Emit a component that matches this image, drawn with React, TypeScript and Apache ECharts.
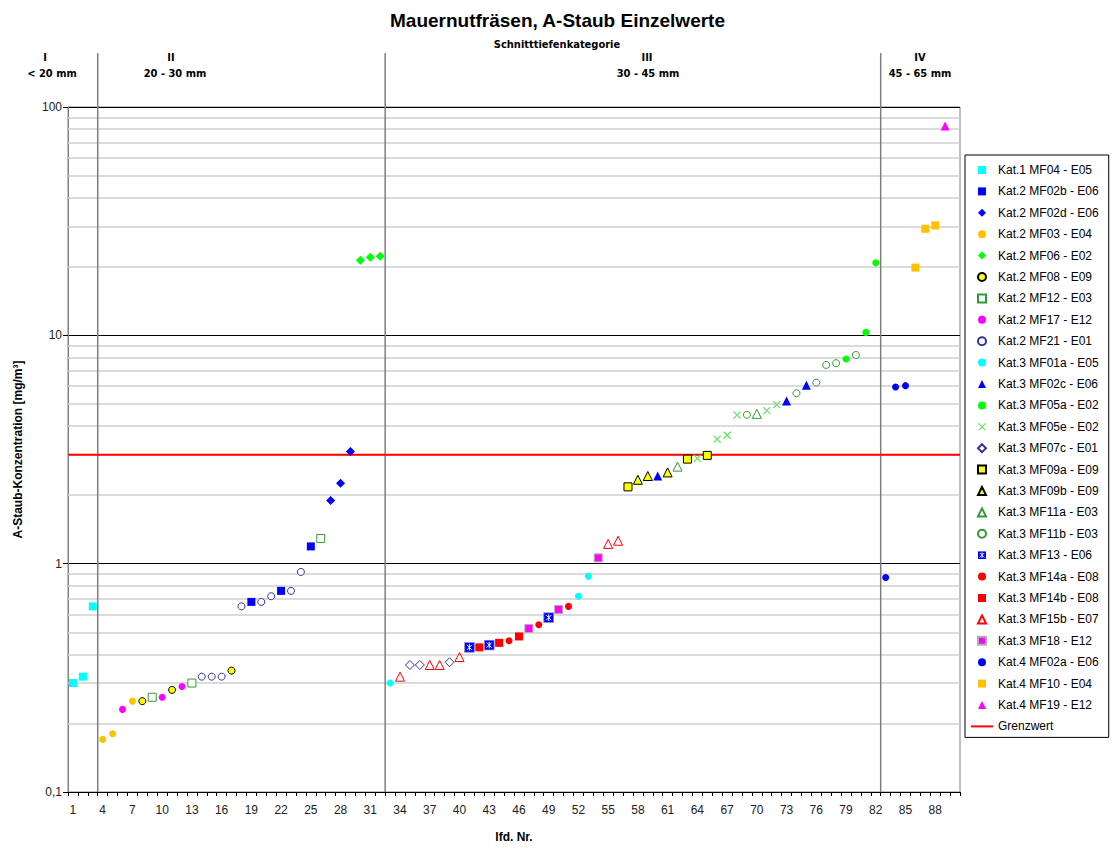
import React, { useEffect, useRef } from "react";
import * as echarts from "echarts";

// ---------- data ----------
const categories = Array.from({ length: 90 }, (_, i) => String(i + 1));

const kat1MF04 = [[1, 0.3], [2, 0.32], [3, 0.65]];
const kat2MF02b = [[19, 0.68], [22, 0.76], [25, 1.19]];
const kat2MF02d = [[27, 1.89], [28, 2.25], [29, 3.1]];
const kat2MF03 = [[4, 0.17], [5, 0.18], [7, 0.25]];
const kat2MF06 = [[30, 21.3], [31, 22.0], [32, 22.2]];
const kat2MF08 = [[8, 0.25], [11, 0.28], [17, 0.34]];
const kat2MF12 = [[9, 0.26], [13, 0.3], [26, 1.29]];
const kat2MF17 = [[6, 0.23], [10, 0.26], [12, 0.29]];
const kat2MF21 = [[14, 0.32], [15, 0.32], [16, 0.32], [18, 0.65], [20, 0.68], [21, 0.72], [23, 0.76], [24, 0.92]];
const kat3MF01a = [[33, 0.3], [52, 0.72], [53, 0.88]];
const kat3MF02c = [[60, 2.42], [73, 5.16], [75, 6.04]];
const kat3MF05a = [[79, 7.88], [81, 10.3], [82, 20.8]];
const kat3MF05e = [[64, 2.89], [66, 3.51], [67, 3.65], [68, 4.47], [71, 4.68], [72, 4.97]];
const kat3MF07c = [[35, 0.36], [36, 0.36], [39, 0.37]];
const kat3MF09a = [[57, 2.17], [63, 2.87], [65, 2.98]];
const kat3MF09b = [[58, 2.33], [59, 2.42], [61, 2.51]];
const kat3MF11a = [[62, 2.66], [70, 4.53]];
const kat3MF11b = [[69, 4.49], [74, 5.58], [76, 6.21], [77, 7.42], [78, 7.55], [80, 8.2]];
const kat3MF13 = [[41, 0.43], [43, 0.44], [49, 0.58]];
const kat3MF14a = [[45, 0.46], [48, 0.54], [51, 0.65]];
const kat3MF14b = [[42, 0.43], [44, 0.45], [46, 0.48]];
const kat3MF15b = [[34, 0.32], [37, 0.36], [38, 0.36], [40, 0.39], [55, 1.22], [56, 1.26]];
const kat3MF18 = [[47, 0.52], [50, 0.63], [54, 1.06]];
const kat4MF02a = [[83, 0.87], [84, 5.94], [85, 6.02]];
const kat4MF10 = [[86, 19.8], [87, 29.3], [88, 30.3]];
const kat4MF19 = [[89, 82.6]];

const grenzwert = 3;
const minorGridValues = [0.2, 0.3, 0.4, 0.5, 0.6, 0.7, 0.8, 0.9, 2, 3, 4, 5, 6, 7, 8, 9, 20, 30, 40, 50, 60, 70, 80, 90];
const dividers = [3.5, 32.5, 82.5];
const sectionRoman = ["I", "II", "III", "IV"];
const sectionRange = ["< 20 mm", "20 - 30 mm", "30 - 45 mm", "45 - 65 mm"];

// ---------- styles ----------
const FONT = "'Liberation Sans', Arial, sans-serif";
const NARROW = "'Liberation Sans Narrow', 'DejaVu Sans Condensed', 'Liberation Sans', sans-serif";

const svgUrl = (s: string) => "image://data:image/svg+xml;utf8," + encodeURIComponent(s);
const crossSymbol = svgUrl(
  "<svg xmlns='http://www.w3.org/2000/svg' width='9' height='9'><path d='M1 1L8 8M8 1L1 8' stroke='#5CE65C' stroke-width='1.2' fill='none'/></svg>"
);
const starBoxSymbol = svgUrl(
  "<svg xmlns='http://www.w3.org/2000/svg' width='11' height='11'><rect x='0.5' y='0.5' width='10' height='10' fill='#0000FF' stroke='#9999DD'/><path d='M3 3L8 8M8 3L3 8M5.5 2.2V8.8' stroke='#FFFFFF' stroke-width='1' fill='none'/></svg>"
);
// legend versions drawn into the full 22x8 legend icon box
const crossLegend = svgUrl(
  "<svg xmlns='http://www.w3.org/2000/svg' width='22' height='8' viewBox='0 0 22 8' preserveAspectRatio='none'><path d='M7.5 0.5L14.5 7.5M14.5 0.5L7.5 7.5' stroke='#5CE65C' stroke-width='1.1' fill='none'/></svg>"
);
const starBoxLegend = svgUrl(
  "<svg xmlns='http://www.w3.org/2000/svg' width='22' height='8' viewBox='0 0 22 8' preserveAspectRatio='none'><rect x='7' y='0' width='8' height='8' fill='#0000FF'/><path d='M8.8 1.8L13.2 6.2M13.2 1.8L8.8 6.2M11 1.2V6.8' stroke='#FFFFFF' stroke-width='0.9' fill='none'/></svg>"
);

const legendPaths: Record<string, string> = {
  rect: "path://M0,0H10V10H0Z",
  circle: "path://M0,5A5,5,0,1,0,10,5A5,5,0,1,0,0,5Z",
  diamond: "path://M5,0L10,5L5,10L0,5Z",
  triangle: "path://M5,0L10,10L0,10Z",
};

type SDef = { name: string; data: number[][]; symbol: string; size: number; color: string; border?: string; bw?: number; legendIcon?: string };

const defs: SDef[] = [
  { name: "Kat.1 MF04 - E05", data: kat1MF04, symbol: "rect", size: 8, color: "#00FFFF" },
  { name: "Kat.2 MF02b - E06", data: kat2MF02b, symbol: "rect", size: 8, color: "#0000FF" },
  { name: "Kat.2 MF02d - E06", data: kat2MF02d, symbol: "diamond", size: 9, color: "#0000FF" },
  { name: "Kat.2 MF03 - E04", data: kat2MF03, symbol: "circle", size: 7, color: "#FFC000" },
  { name: "Kat.2 MF06 - E02", data: kat2MF06, symbol: "diamond", size: 9, color: "#00FF00" },
  { name: "Kat.2 MF08 - E09", data: kat2MF08, symbol: "circle", size: 7, color: "#FFFF00", border: "#000000", bw: 1 },
  { name: "Kat.2 MF12 - E03", data: kat2MF12, symbol: "rect", size: 8, color: "#FFFFFF", border: "#339933", bw: 1 },
  { name: "Kat.2 MF17 - E12", data: kat2MF17, symbol: "circle", size: 7, color: "#FF00FF" },
  { name: "Kat.2 MF21 - E01", data: kat2MF21, symbol: "circle", size: 7, color: "#FFFFFF", border: "#333399", bw: 1 },
  { name: "Kat.3 MF01a - E05", data: kat3MF01a, symbol: "circle", size: 7, color: "#00FFFF" },
  { name: "Kat.3 MF02c - E06", data: kat3MF02c, symbol: "triangle", size: 9, color: "#0000FF" },
  { name: "Kat.3 MF05a - E02", data: kat3MF05a, symbol: "circle", size: 7, color: "#00FF00" },
  { name: "Kat.3 MF05e - E02", data: kat3MF05e, symbol: crossSymbol, size: 9, color: "#5CE65C", legendIcon: crossLegend },
  { name: "Kat.3 MF07c - E01", data: kat3MF07c, symbol: "diamond", size: 9, color: "#FFFFFF", border: "#333399", bw: 1 },
  { name: "Kat.3 MF09a - E09", data: kat3MF09a, symbol: "rect", size: 8, color: "#FFFF00", border: "#000000", bw: 1 },
  { name: "Kat.3 MF09b - E09", data: kat3MF09b, symbol: "triangle", size: 9, color: "#FFFF00", border: "#000000", bw: 1 },
  { name: "Kat.3 MF11a - E03", data: kat3MF11a, symbol: "triangle", size: 9, color: "#FFFFFF", border: "#339933", bw: 1 },
  { name: "Kat.3 MF11b - E03", data: kat3MF11b, symbol: "circle", size: 7, color: "#FFFFFF", border: "#339933", bw: 1 },
  { name: "Kat.3 MF13 - E06", data: kat3MF13, symbol: starBoxSymbol, size: 11, color: "#0000FF", legendIcon: starBoxLegend },
  { name: "Kat.3 MF14a - E08", data: kat3MF14a, symbol: "circle", size: 7, color: "#FF0000" },
  { name: "Kat.3 MF14b - E08", data: kat3MF14b, symbol: "rect", size: 8, color: "#FF0000" },
  { name: "Kat.3 MF15b - E07", data: kat3MF15b, symbol: "triangle", size: 9, color: "#FFFFFF", border: "#FF0000", bw: 1 },
  { name: "Kat.3 MF18 - E12", data: kat3MF18, symbol: "rect", size: 8, color: "#FF00FF", border: "#B0B0B0", bw: 1 },
  { name: "Kat.4 MF02a - E06", data: kat4MF02a, symbol: "circle", size: 7, color: "#0000FF" },
  { name: "Kat.4 MF10 - E04", data: kat4MF10, symbol: "rect", size: 8, color: "#FFC000" },
  { name: "Kat.4 MF19 - E12", data: kat4MF19, symbol: "triangle", size: 9, color: "#FF00FF" },
];

export default function App() {
  const ref = useRef<HTMLDivElement>(null);

  useEffect(() => {
    if (!ref.current) return;
    const chart = echarts.init(ref.current, null, { renderer: "svg" });

    const scatterSeries = defs.map((d) => ({
      name: d.name,
      type: "scatter",
      xAxisIndex: 0,
      yAxisIndex: 0,
      symbol: d.symbol,
      symbolSize: d.size,
      symbolKeepAspect: true,
      data: d.data.map((p) => [p[0] - 1, p[1]]),
      itemStyle: {
        color: d.color,
        borderColor: d.border ?? d.color,
        borderWidth: d.bw ?? 0,
        opacity: 1,
      },
      z: 5,
    }));

    const legendData: any[] = defs.map((d) => ({
      name: d.name,
      icon: d.legendIcon ?? legendPaths[d.symbol] ?? d.symbol,
    }));
    legendData.push({ name: "Grenzwert" });

    const option: any = {
      animation: false,
      backgroundColor: "#FFFFFF",
      title: {
        text: "Mauernutfräsen, A-Staub Einzelwerte",
        left: "center",
        top: 6,
        textStyle: { fontFamily: FONT, fontSize: 19, fontWeight: "bold", color: "#000" },
      },
      grid: {
        left: 68,
        right: 155,
        top: 107,
        bottom: 55,
        show: true,
        borderColor: "#808080",
        borderWidth: 1,
        backgroundColor: "#FFFFFF",
      },
      legend: {
        orient: "vertical",
        left: 965,
        top: 155,
        padding: [8, 10, 4, 5],
        itemWidth: 22,
        itemHeight: 8,
        itemGap: 7.4,
        symbolKeepAspect: true,
        borderColor: "#000000",
        borderWidth: 1,
        backgroundColor: "#FFFFFF",
        textStyle: { fontFamily: FONT, fontSize: 12, lineHeight: 14, color: "#000" },
        data: legendData,
      },
      xAxis: [
        {
          type: "category",
          data: categories,
          boundaryGap: true,
          name: "lfd. Nr.",
          nameLocation: "middle",
          nameGap: 39,
          nameTextStyle: { fontFamily: FONT, fontSize: 12, fontWeight: "bold", color: "#000" },
          axisLine: { show: true, lineStyle: { color: "#000000", width: 1 } },
          axisTick: { show: true, interval: 0, length: 4, lineStyle: { color: "#000000" } },
          axisLabel: { interval: 2, fontFamily: FONT, fontSize: 12, color: "#222", margin: 12 },
          splitLine: { show: false },
        },
        {
          type: "value",
          min: 0.5,
          max: 90.5,
          show: false,
          splitLine: { show: false },
        },
      ],
      yAxis: [
        {
          type: "log",
          logBase: 10,
          min: 0.1,
          max: 100,
          name: "A-Staub-Konzentration [mg/m³]",
          nameLocation: "middle",
          nameGap: 44,
          nameTextStyle: { fontFamily: FONT, fontSize: 12, fontWeight: "bold", color: "#000" },
          axisLine: { show: true, lineStyle: { color: "#808080", width: 1 } },
          axisTick: { show: true, length: 5, lineStyle: { color: "#000000" } },
          axisLabel: {
            fontFamily: FONT,
            fontSize: 12,
            color: "#222",
            margin: 6,
            formatter: (v: number) => String(v).replace(".", ","),
          },
          splitLine: { show: true, lineStyle: { color: "#000000", width: 1 } },
        },
      ],
      series: [
        {
          name: "_minor",
          type: "line",
          xAxisIndex: 1,
          yAxisIndex: 0,
          data: [],
          silent: true,
          z: 1,
          markLine: {
            silent: true,
            z: 1,
            symbol: "none",
            label: { show: false },
            lineStyle: { color: "#CFCFCF", width: 1.5, type: "solid" },
            data: minorGridValues.map((v) => ({ yAxis: v })),
            animation: false,
          },
        },
        ...scatterSeries,
        {
          name: "Grenzwert",
          type: "line",
          xAxisIndex: 1,
          yAxisIndex: 0,
          symbol: "none",
          showSymbol: false,
          data: [[0.5, grenzwert], [90.5, grenzwert]],
          lineStyle: { color: "#FF0000", width: 2, opacity: 1 },
          itemStyle: { color: "rgba(0,0,0,0)", borderWidth: 0 },
          z: 4,
        },
      ],
    };

    chart.setOption(option);

    const yBottom = chart.convertToPixel({ yAxisIndex: 0 }, 0.1) as number;
    const lineTop = 53;
    const dividerLines = dividers.map((d) => {
      const x = chart.convertToPixel({ xAxisIndex: 1 }, d) as number;
      return {
        type: "line",
        silent: true,
        z: 4,
        shape: { x1: x, y1: lineTop, x2: x, y2: yBottom },
        style: { stroke: "#7F7F7F", lineWidth: 1.5 },
      };
    });
    const romanX = [45, 171, 647, 920];
    const rangeX = [52, 175, 648, 920];
    const texts: any[] = [
      {
        type: "text",
        x: 557,
        y: 44,
        style: { text: "Schnitttiefenkategorie", fontFamily: NARROW, fontSize: 11, fontWeight: "bold", fill: "#000", align: "center", verticalAlign: "middle" },
      },
    ];
    romanX.forEach((x, i) => {
      texts.push({
        type: "text",
        x,
        y: 57,
        style: { text: sectionRoman[i], fontFamily: NARROW, fontSize: 11, fontWeight: "bold", fill: "#000", align: "center", verticalAlign: "middle" },
      });
      texts.push({
        type: "text",
        x: rangeX[i],
        y: 73,
        style: { text: sectionRange[i], fontFamily: NARROW, fontSize: 11, fontWeight: "bold", fill: "#000", align: "center", verticalAlign: "middle" },
      });
    });

    chart.setOption({ graphic: [...dividerLines, ...texts] });

    return () => chart.dispose();
  }, []);

  return (
    <div
      ref={ref}
      style={{ position: "absolute", left: 0, top: 0, width: 1115, height: 848, background: "#fff" }}
    />
  );
}
